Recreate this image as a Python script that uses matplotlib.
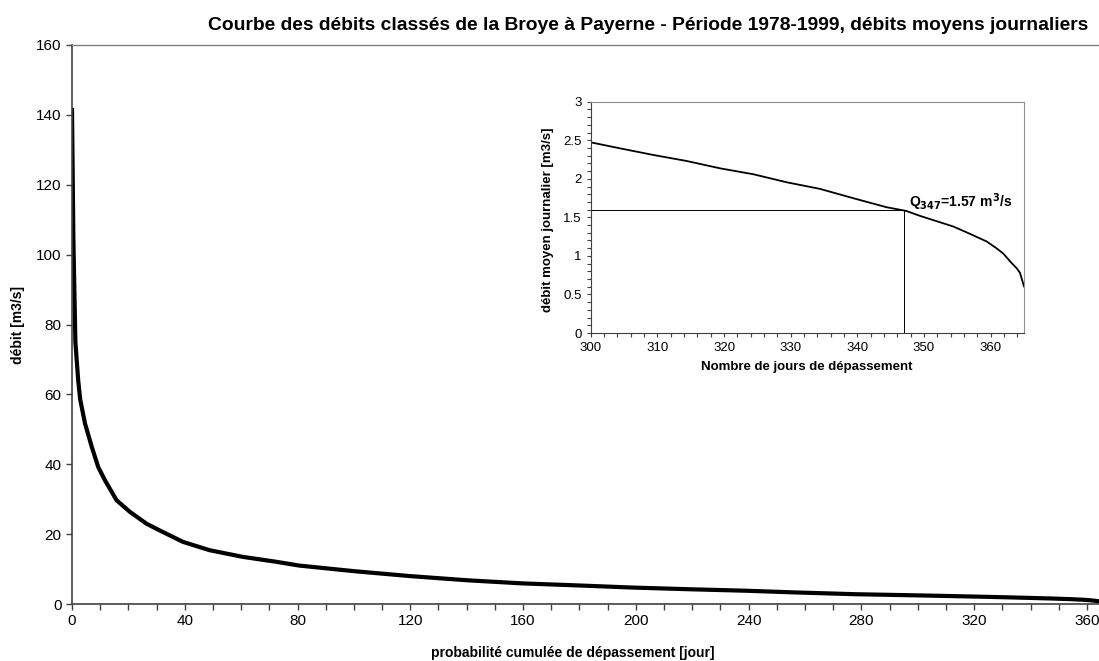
import matplotlib
matplotlib.use("Agg")
import matplotlib.pyplot as plt
from matplotlib.ticker import MultipleLocator

plt.rcParams['font.family'] = ['Liberation Sans', 'DejaVu Sans']

# Main duration curve (days of exceedance, discharge m3/s)
days_main = [0, 0.5, 1.2, 2.2, 2.9, 4.6, 7, 9.3, 11.7, 15.8, 20.5, 26.4, 31,
             39.3, 48.8, 60.5, 72.3, 80.6, 100, 119.7, 140, 159.7, 180, 199, 220,
             239, 257, 278, 300, 309.4, 319.4, 329.4, 339.4, 347.3, 354.4, 359.4,
             361.9, 363.9, 365]
flow_main = [141.4, 104, 75, 64, 58.6, 51.7, 45, 39.2, 35.4, 29.7, 26.4, 23,
             21.1, 17.8, 15.4, 13.5, 12.1, 11.0, 9.4, 8.0, 6.8, 5.9, 5.3, 4.7, 4.2,
             3.8, 3.3, 2.8, 2.47, 2.31, 2.14, 1.96, 1.75, 1.58, 1.38, 1.19, 1.01,
             0.82, 0.6]

# Inset: low-flow part of the curve
days_inset = [300, 304.4, 309.4, 314.4, 319.4, 324.4, 329.4, 334.4, 339.4, 344.4,
              347.3, 349.4, 354.4, 356.9, 359.4, 360.7, 361.9, 362.9, 363.9, 364.4, 365]
flow_inset = [2.473, 2.395, 2.309, 2.231, 2.136, 2.059, 1.955, 1.869, 1.748, 1.631,
              1.584, 1.519, 1.381, 1.286, 1.187, 1.11, 1.03, 0.93, 0.84, 0.78, 0.604]

q347_day = 347
q347_ref = 1.6
q347_label = "Q$_{\\mathbf{347}}$=1.57 m$^{\\mathbf{3}}$/s"

title = "Courbe des débits classés de la Broye à Payerne - Période 1978-1999, débits moyens journaliers"

W, H = 1099, 661
fig = plt.figure(figsize=(W / 100, H / 100), dpi=100)

# main axes (right edge at the figure border, as in the reference)
l, r, t, b = 72, 1101, 45, 604
ax = fig.add_axes([l / W, (H - b) / H, (r - l) / W, (b - t) / H])
ax.plot(days_main, flow_main, color='black', lw=3, solid_joinstyle='round')
ax.set_xlim(0, 365)
ax.set_ylim(0, 160)
ax.xaxis.set_major_locator(MultipleLocator(40))
ax.xaxis.set_minor_locator(MultipleLocator(10))
ax.yaxis.set_major_locator(MultipleLocator(20))
ax.tick_params(which='both', direction='out', length=4, width=1, colors='#404040',
               labelcolor='black', labelsize=11)
for s in ['left', 'bottom']:
    ax.spines[s].set_color('#404040')
    ax.spines[s].set_linewidth(1.2)
for s in ['top', 'right']:
    ax.spines[s].set_color('#808080')
    ax.spines[s].set_linewidth(1)
fig.text(573 / W, 1 - 653 / H, "probabilité cumulée de dépassement [jour]",
         ha='center', va='center', fontsize=10, fontweight='bold')
fig.text(18 / W, 1 - 325 / H, "débit [m3/s]", ha='center', va='center',
         rotation=90, fontsize=10, fontweight='bold')
fig.text(648 / W, 1 - 25 / H, title, ha='center', va='center', fontsize=13.9,
         fontweight='bold')

# inset axes
il, ir, it, ib = 590.7, 1024, 101.7, 333
ax2 = fig.add_axes([il / W, (H - ib) / H, (ir - il) / W, (ib - it) / H])
ax2.plot(days_inset, flow_inset, color='black', lw=1.3)
ax2.plot([300, q347_day], [q347_ref, q347_ref], color='black', lw=0.7)
ax2.plot([q347_day, q347_day], [0, q347_ref], color='black', lw=0.7)
ax2.text(347.8, 1.70, q347_label, fontsize=10, fontweight='bold', ha='left', va='center')
ax2.set_xlim(300, 365)
ax2.set_ylim(0, 3)
ax2.xaxis.set_major_locator(MultipleLocator(10))
ax2.xaxis.set_minor_locator(MultipleLocator(2))
ax2.yaxis.set_minor_locator(MultipleLocator(0.1))
ax2.set_yticks([0, 0.5, 1, 1.5, 2, 2.5, 3])
ax2.set_yticklabels(['0', '0.5', '1', '1.5', '2', '2.5', '3'])
ax2.tick_params(which='both', direction='out', length=3, width=0.8, colors='#404040',
                labelcolor='black', labelsize=9.5)
for s in ['left', 'bottom']:
    ax2.spines[s].set_color('#404040')
for s in ['top', 'right']:
    ax2.spines[s].set_color('#909090')
fig.text(807 / W, 1 - 367 / H, "Nombre de jours de dépassement", ha='center',
         va='center', fontsize=9.5, fontweight='bold')
fig.text(548 / W, 1 - 220 / H, "débit moyen journalier [m3/s]", ha='center',
         va='center', rotation=90, fontsize=9.5, fontweight='bold')

fig.savefig("out.png", dpi=100)
